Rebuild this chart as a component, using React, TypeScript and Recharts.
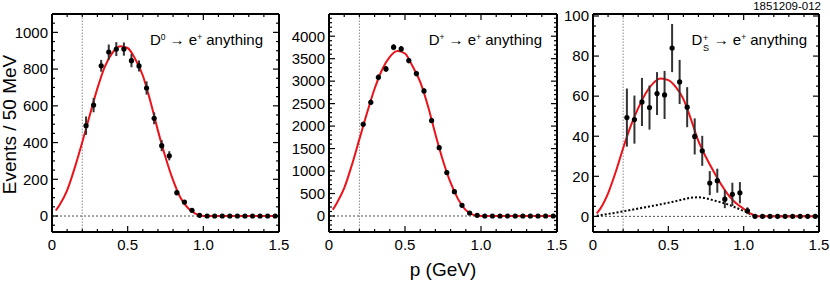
import React from 'react';
import {
  ComposedChart,
  Line,
  Scatter,
  XAxis,
  YAxis,
  ReferenceLine,
  ErrorBar,
} from 'recharts';

const FONT = '"Liberation Sans", Arial, Helvetica, sans-serif';

// bin centres, 50 MeV bins
const binCenters = [
  0.225, 0.275, 0.325, 0.375, 0.425, 0.475, 0.525, 0.575, 0.625, 0.675, 0.725, 0.775, 0.825,
  0.875, 0.925, 0.975, 1.025, 1.075, 1.125, 1.175, 1.225, 1.275, 1.325, 1.375, 1.425, 1.475,
];

const d0Counts = [492, 604, 818, 893, 909, 909, 846, 817, 697, 532, 383, 328, 127, 76, 31, 4, 0, 0, 0, 0, 0, 0, 0, 0, 0, 0];
const d0Errors = [50, 39, 32, 41, 38, 36, 36, 30, 36, 32, 30, 25, 14, 10, 8, 3, 0, 0, 0, 0, 0, 0, 0, 0, 0, 0];

const dpCounts = [2041, 2531, 3087, 3273, 3755, 3718, 3458, 3169, 2783, 2122, 1521, 965, 542, 237, 67, 15, 0, 0, 0, 0, 0, 0, 0, 0, 0, 0];
const dpErrors = [55, 60, 65, 65, 65, 65, 60, 60, 55, 50, 45, 38, 30, 20, 12, 5, 0, 0, 0, 0, 0, 0, 0, 0, 0, 0];

const dsCounts = [49.3, 48.3, 57.1, 54.3, 61.3, 60.6, 84, 67.1, 54.5, 39.9, 32.7, 16.6, 17.8, 8.6, 11, 11.8, 2.8, 0, 0, 0, 0, 0, 0, 0, 0, 0];
const dsErrors = [14.5, 12, 12, 11, 10.7, 12, 12, 11, 10, 9, 7.5, 6, 6, 4.5, 5.8, 5.3, 1.7, 0, 0, 0, 0, 0, 0, 0, 0, 0];

// fit curves
const curveX = [
  0.025, 0.05, 0.1, 0.15, 0.2, 0.25, 0.3, 0.35, 0.4, 0.45, 0.5, 0.55, 0.6, 0.65, 0.7, 0.75, 0.8,
  0.85, 0.9, 0.95, 1.0, 1.05, 1.1, 1.2, 1.3, 1.4, 1.5,
];
const d0Fit = [30, 60, 140, 262, 402, 550, 695, 815, 890, 925, 915, 855, 765, 625, 465, 320, 195, 98, 42, 12, 0, 0, 0, 0, 0, 0, 0];
const dpFit = [140, 280, 620, 1130, 1710, 2290, 2830, 3260, 3540, 3670, 3615, 3330, 2985, 2460, 1820, 1230, 740, 370, 130, 25, 0, 0, 0, 0, 0, 0, 0];
const dsFit = [1.5, 4, 11.5, 22, 34, 45, 54, 61.5, 66.5, 68.8, 68, 64.5, 58.5, 48.5, 37.5, 29.5, 22.5, 16, 10.5, 6.5, 3.8, 1.2, 0, 0, 0, 0, 0];
const dsBackground = [0.3, 0.6, 1.2, 1.8, 2.5, 3.2, 3.9, 4.6, 5.3, 6.0, 6.8, 7.6, 8.5, 9.3, 9.5, 9.0, 8.0, 7.0, 5.8, 4.3, 2.7, 1.0, 0, 0, 0, 0, 0];

const xTicks = [0, 0.1, 0.2, 0.3, 0.4, 0.5, 0.6, 0.7, 0.8, 0.9, 1.0, 1.1, 1.2, 1.3, 1.4, 1.5];
const d0Ticks = [-50, 0, 50, 100, 150, 200, 250, 300, 350, 400, 450, 500, 550, 600, 650, 700, 750, 800, 850, 900, 950, 1000, 1050, 1100];
const dpTicks = [
  -300, -200, -100, 0, 100, 200, 300, 400, 500, 600, 700, 800, 900, 1000, 1100, 1200, 1300, 1400,
  1500, 1600, 1700, 1800, 1900, 2000, 2100, 2200, 2300, 2400, 2500, 2600, 2700, 2800, 2900, 3000,
  3100, 3200, 3300, 3400, 3500, 3600, 3700, 3800, 3900, 4000, 4100, 4200, 4300, 4400,
];
const dsTicks = [-5, 0, 5, 10, 15, 20, 25, 30, 35, 40, 45, 50, 55, 60, 65, 70, 75, 80, 85, 90, 95, 100];

const toPoints = (counts: number[], errs: number[]) =>
  binCenters.map((x, i) => ({ x, y: counts[i], err: errs[i] }));
const toCurve = (ys: number[]) => curveX.map((x, i) => ({ x, y: ys[i] }));

const GAP_X = 6;
const GAP_Y = 4;
const MAJOR = 6;
const MINOR = 3;

const isMajorX = (v: number) => Math.abs(v * 2 - Math.round(v * 2)) < 1e-6;
const fmtX = (v: number) => (v === 0 ? '0' : v.toFixed(1));

const bottomTick = (p: any) => {
  const v = p.payload.value;
  const major = isMajorX(v);
  const axisY = p.y - GAP_X;
  return (
    <g>
      <line x1={p.x} x2={p.x} y1={axisY} y2={axisY - (major ? MAJOR : MINOR)} stroke="#000" strokeWidth={1.2} />
      {major && (
        <text x={p.x} y={p.y} dy={12.3} textAnchor="middle" fontSize={15} fontFamily={FONT} fill="#000">
          {fmtX(v)}
        </text>
      )}
    </g>
  );
};

const topTick = (p: any) => {
  const major = isMajorX(p.payload.value);
  const axisY = p.y + GAP_X;
  return (
    <line x1={p.x} x2={p.x} y1={axisY} y2={axisY + (major ? MAJOR : MINOR)} stroke="#000" strokeWidth={1.2} />
  );
};

const leftTick = (step: number) => (p: any) => {
  const v = p.payload.value;
  const major = v % step === 0;
  const axisX = p.x + GAP_Y;
  return (
    <g>
      <line x1={axisX} x2={axisX + (major ? MAJOR : MINOR)} y1={p.y} y2={p.y} stroke="#000" strokeWidth={1.2} />
      {major && (
        <text x={p.x} y={p.y} dy={5.3} textAnchor="end" fontSize={15} fontFamily={FONT} fill="#000">
          {String(v)}
        </text>
      )}
    </g>
  );
};

const rightTick = (step: number) => (p: any) => {
  const major = p.payload.value % step === 0;
  const axisX = p.x - GAP_Y;
  return (
    <line x1={axisX} x2={axisX - (major ? MAJOR : MINOR)} y1={p.y} y2={p.y} stroke="#000" strokeWidth={1.2} />
  );
};

const dot = (p: any) => <circle cx={p.cx} cy={p.cy} r={2.6} fill="#000" />;

interface PanelProps {
  left: number;
  axisWidth: number;
  plotWidth: number;
  yDomain: [number, number];
  yTicks: number[];
  majorStep: number;
  points: { x: number; y: number; err: number }[];
  fit: { x: number; y: number }[];
  background?: { x: number; y: number }[];
}

function Panel({ left, axisWidth, plotWidth, yDomain, yTicks, majorStep, points, fit, background }: PanelProps) {
  const frame = { stroke: '#000', strokeWidth: 2 };
  return (
    <div style={{ position: 'absolute', left, top: 0 }}>
      <ComposedChart
        width={axisWidth + plotWidth + 20}
        height={281}
        margin={{ top: 4, right: 10, bottom: 19, left: 0 }}
      >
        <XAxis
          dataKey="x"
          type="number"
          domain={[0, 1.5]}
          ticks={xTicks}
          interval={0}
          allowDataOverflow
          height={30}
          tickSize={0}
          tickMargin={GAP_X}
          tickLine={false}
          axisLine={frame}
          tick={bottomTick}
        />
        <XAxis
          xAxisId="top"
          orientation="top"
          dataKey="x"
          type="number"
          domain={[0, 1.5]}
          ticks={xTicks}
          interval={0}
          allowDataOverflow
          height={10}
          tickSize={0}
          tickMargin={GAP_X}
          tickLine={false}
          axisLine={frame}
          tick={topTick}
        />
        <YAxis
          dataKey="y"
          type="number"
          domain={yDomain}
          ticks={yTicks}
          interval={0}
          allowDataOverflow
          width={axisWidth}
          tickSize={0}
          tickMargin={GAP_Y}
          tickLine={false}
          axisLine={frame}
          tick={leftTick(majorStep)}
        />
        <YAxis
          yAxisId="right"
          orientation="right"
          dataKey="y"
          type="number"
          domain={yDomain}
          ticks={yTicks}
          interval={0}
          allowDataOverflow
          width={10}
          tickSize={0}
          tickMargin={GAP_Y}
          tickLine={false}
          axisLine={frame}
          tick={rightTick(majorStep)}
        />
        <ReferenceLine x={0.2} stroke="#8a8a8a" strokeWidth={1} strokeDasharray="1.5 1.5" />
        <ReferenceLine y={0} stroke="#000" strokeWidth={0.7} strokeDasharray="2 2" />
        {/* invisible series so the mirrored frame axes get drawn */}
        <Line
          data={fit}
          xAxisId="top"
          yAxisId="right"
          dataKey="y"
          stroke="none"
          dot={false}
          isAnimationActive={false}
        />
        {background && (
          <Line
            data={background}
            dataKey="y"
            type="monotone"
            stroke="#000"
            strokeWidth={2}
            strokeDasharray="2 2"
            dot={false}
            isAnimationActive={false}
          />
        )}
        <Line
          data={fit}
          dataKey="y"
          type="monotone"
          stroke="#ec1219"
          strokeWidth={2}
          dot={false}
          isAnimationActive={false}
        />
        <Scatter data={points} dataKey="y" fill="#000" shape={dot} isAnimationActive={false}>
          <ErrorBar dataKey="err" direction="y" width={0} stroke="#333" strokeWidth={2} />
        </Scatter>
      </ComposedChart>
    </div>
  );
}

const sup: React.CSSProperties = { fontSize: 8.5, position: 'relative', top: -5 };
const titleStyle = (right: number): React.CSSProperties => ({
  position: 'absolute',
  right: 830 - right,
  top: 32,
  fontSize: 15,
  lineHeight: '15px',
  whiteSpace: 'nowrap',
  color: '#000',
});

export default function App() {
  return (
    <div
      style={{
        position: 'absolute',
        left: 0,
        top: 0,
        width: 830,
        height: 281,
        background: '#fff',
        fontFamily: FONT,
        overflow: 'hidden',
      }}
    >
      <Panel
        left={0}
        axisWidth={52}
        plotWidth={227}
        yDomain={[-87, 1100]}
        yTicks={d0Ticks}
        majorStep={200}
        points={toPoints(d0Counts, d0Errors)}
        fit={toCurve(d0Fit)}
      />
      <Panel
        left={279}
        axisWidth={50}
        plotWidth={228}
        yDomain={[-356, 4494]}
        yTicks={dpTicks}
        majorStep={500}
        points={toPoints(dpCounts, dpErrors)}
        fit={toCurve(dpFit)}
      />
      <Panel
        left={543}
        axisWidth={50}
        plotWidth={226}
        yDomain={[-7.8, 101]}
        yTicks={dsTicks}
        majorStep={20}
        points={toPoints(dsCounts, dsErrors)}
        fit={toCurve(dsFit)}
        background={toCurve(dsBackground)}
      />

      <div style={titleStyle(263)}>
        D<span style={sup}>0</span> → e<span style={sup}>+</span> anything
      </div>
      <div style={titleStyle(542)}>
        D<span style={sup}>+</span> → e<span style={sup}>+</span> anything
      </div>
      <div style={titleStyle(807)}>
        D
        <span style={{ position: 'relative', display: 'inline-block', width: 7 }}>
          <span style={{ position: 'absolute', left: 0.5, top: -14, fontSize: 9 }}>+</span>
          <span style={{ position: 'absolute', left: 0.5, top: -4, fontSize: 9 }}>S</span>
        </span>{' '}
        → e<span style={sup}>+</span> anything
      </div>

      <div
        style={{
          position: 'absolute',
          left: 9 - 100,
          top: 124 - 8.5,
          width: 200,
          height: 17,
          lineHeight: '17px',
          fontSize: 19,
          textAlign: 'center',
          transform: 'rotate(-90deg)',
          whiteSpace: 'nowrap',
        }}
      >
        Events / 50 MeV
      </div>
      <div
        style={{
          position: 'absolute',
          left: 443 - 60,
          top: 260,
          width: 120,
          lineHeight: '19px',
          fontSize: 19,
          textAlign: 'center',
        }}
      >
        p (GeV)
      </div>
      <div
        style={{
          position: 'absolute',
          right: 9,
          top: 0,
          fontSize: 11.5,
          lineHeight: '12px',
        }}
      >
        1851209-012
      </div>
    </div>
  );
}
